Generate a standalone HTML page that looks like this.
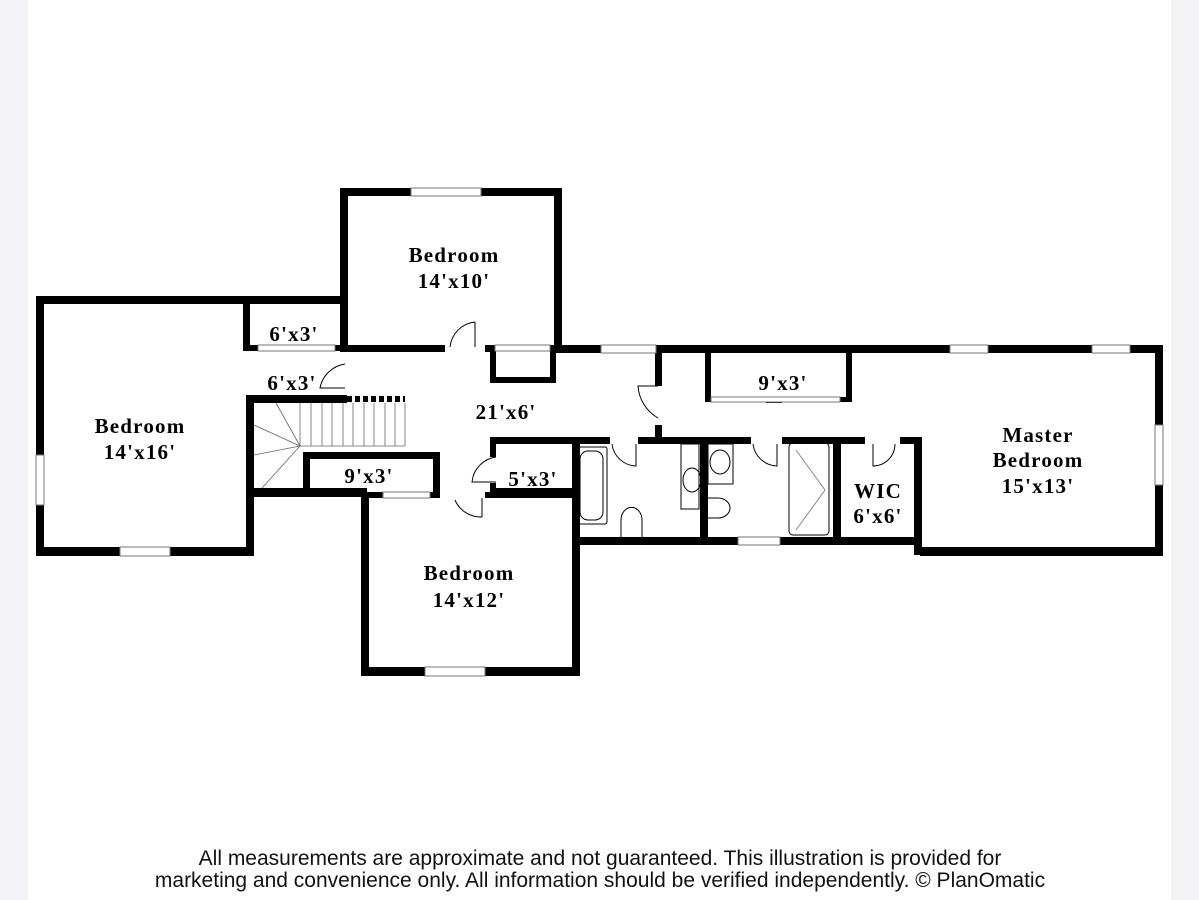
<!DOCTYPE html><html><head><style>
body{margin:0;background:#fff;width:1200px;height:900px;overflow:hidden;position:relative}
.s{position:absolute;top:0;width:28px;height:900px;background:#f3f2f5}
svg{position:absolute;left:0;top:0}
text.r{font-family:"Liberation Serif",serif;font-weight:bold;font-size:21px;letter-spacing:1.2px;text-anchor:middle}
.f{position:absolute;left:0;width:1200px;text-align:center;font-family:"Liberation Sans",sans-serif;font-size:21px;line-height:22px;color:#111}
</style></head><body>
<div class="s" style="left:0"></div><div class="s" style="left:1171px"></div>
<svg width="1200" height="900" viewBox="0 0 1200 900">
<g fill="#000">
<rect x="36" y="296" width="310" height="8"/>
<rect x="36" y="296" width="8" height="260"/>
<rect x="36" y="547" width="218" height="9"/>
<rect x="246" y="395" width="8" height="161"/>
<rect x="243" y="303" width="7" height="48"/>
<rect x="243" y="345" width="15" height="6"/>
<rect x="335" y="345" width="12" height="6"/>
<rect x="340" y="188" width="222" height="8"/>
<rect x="340" y="188" width="8" height="164"/>
<rect x="554" y="188" width="8" height="164"/>
<rect x="345" y="345" width="100" height="7"/>
<rect x="485" y="345" width="10" height="7"/>
<rect x="490" y="345" width="6" height="38"/>
<rect x="490" y="377" width="66" height="6"/>
<rect x="550" y="345" width="6" height="38"/>
<rect x="556" y="345" width="607" height="8"/>
<rect x="1155" y="345" width="8" height="211"/>
<rect x="920" y="547" width="243" height="9"/>
<rect x="705" y="352" width="6" height="50"/>
<rect x="846" y="352" width="6" height="50"/>
<rect x="705" y="397" width="12" height="5"/>
<rect x="840" y="397" width="12" height="5"/>
<rect x="766" y="398" width="16" height="5"/>
<rect x="655" y="352" width="7" height="34"/>
<rect x="655" y="425" width="7" height="18"/>
<rect x="490" y="437" width="120" height="7"/>
<rect x="638" y="437" width="113" height="7"/>
<rect x="782" y="437" width="83" height="7"/>
<rect x="900" y="437" width="22" height="7"/>
<rect x="914" y="437" width="8" height="118"/>
<rect x="572" y="537" width="350" height="8"/>
<rect x="700" y="437" width="8" height="105"/>
<rect x="833" y="437" width="8" height="105"/>
<rect x="490" y="437" width="6" height="20"/>
<rect x="490" y="483" width="6" height="12"/>
<rect x="490" y="488" width="82" height="7"/>
<rect x="361" y="492" width="8" height="184"/>
<rect x="361" y="667" width="219" height="9"/>
<rect x="572" y="437" width="8" height="239"/>
<rect x="361" y="492" width="22" height="6"/>
<rect x="430" y="492" width="10" height="6"/>
<rect x="485" y="492" width="95" height="6"/>
<rect x="247" y="395" width="100" height="8"/>
<rect x="303" y="452" width="137" height="7"/>
<rect x="303" y="452" width="7" height="43"/>
<rect x="433" y="452" width="7" height="46"/>
<rect x="247" y="488" width="120" height="9"/>
</g>
<g fill="none" stroke="#000" stroke-width="1">
<line x1="347" y1="399" x2="405" y2="399" stroke-width="6" stroke-dasharray="5,3"/>
<g stroke="#666" stroke-width="0.8">
<line x1="300" y1="403" x2="300" y2="446"/><line x1="311" y1="403" x2="311" y2="446"/><line x1="322" y1="403" x2="322" y2="446"/><line x1="332" y1="403" x2="332" y2="446"/><line x1="343" y1="403" x2="343" y2="446"/><line x1="353" y1="403" x2="353" y2="446"/><line x1="364" y1="403" x2="364" y2="446"/><line x1="374" y1="403" x2="374" y2="446"/><line x1="385" y1="403" x2="385" y2="446"/><line x1="395" y1="403" x2="395" y2="446"/><line x1="405" y1="403" x2="405" y2="446"/>
<line x1="300" y1="446" x2="405" y2="446"/>
<line x1="300" y1="446" x2="276" y2="403"/><line x1="300" y1="446" x2="254" y2="425"/><line x1="300" y1="446" x2="254" y2="455"/><line x1="300" y1="446" x2="262" y2="488"/>
</g>
<path d="M345 364 A30 30 0 0 0 320 388 L345 388"/>
<path d="M475 322 A28 28 0 0 0 450 347"/><line x1="475" y1="322" x2="475" y2="347"/>
<path d="M658 386 L638 386 A40 40 0 0 0 658 418"/>
<path d="M496 457 A28 28 0 0 0 472 482 L496 482"/>
<path d="M455 500 A28 28 0 0 0 482 517"/><line x1="482" y1="498" x2="482" y2="517"/>
<path d="M612 444 A25 25 0 0 0 636 466 L636 444"/>
<path d="M753 444 A25 25 0 0 0 777 466 L777 444"/>
<path d="M895 444 A22 22 0 0 1 873 466 L873 444"/>
<rect x="576" y="447" width="31" height="77" rx="2"/>
<rect x="580" y="451" width="23" height="69" rx="8"/>
<rect x="681" y="444" width="18" height="65"/>
<ellipse cx="692" cy="480" rx="9" ry="12"/>
<rect x="708" y="444" width="25" height="40"/>
<ellipse cx="720" cy="462" rx="10" ry="12"/>
<path d="M708 498 L718 498 A12 10 0 0 1 718 518 L708 518"/>
<path d="M621 537 L621 520 A10 12 0 0 1 642 520 L642 537"/>
<rect x="789" y="443" width="40" height="92" rx="4"/>
<polyline points="796,450 825,490 796,530" stroke="#888"/>
<g fill="#fff" stroke="#777">
<rect x="411" y="188" width="70" height="8"/><rect x="601" y="345" width="55" height="8"/>
<rect x="950" y="345" width="38" height="8"/><rect x="1092" y="345" width="38" height="8"/>
<rect x="1155" y="425" width="8" height="60"/><rect x="36" y="455" width="8" height="50"/>
<rect x="120" y="547" width="50" height="9"/><rect x="425" y="667" width="60" height="9"/>
<rect x="738" y="537" width="42" height="8"/>
<rect x="258" y="345" width="77" height="6"/><rect x="495" y="345" width="55" height="6"/>
<rect x="383" y="492" width="47" height="6"/><rect x="711" y="397" width="129" height="5"/>
</g>
</g>
<text class="r" x="454" y="262">Bedroom</text><text class="r" x="454" y="288">14'x10'</text>
<text class="r" x="140" y="433">Bedroom</text><text class="r" x="140" y="459">14'x16'</text>
<text class="r" x="469" y="580">Bedroom</text><text class="r" x="469" y="607">14'x12'</text>
<text class="r" x="1038" y="442">Master</text><text class="r" x="1038" y="467">Bedroom</text><text class="r" x="1038" y="493">15'x13'</text>
<text class="r" x="878" y="498">WIC</text><text class="r" x="878" y="523">6'x6'</text>
<text class="r" x="294" y="341">6'x3'</text><text class="r" x="292" y="390">6'x3'</text>
<text class="r" x="506" y="419">21'x6'</text><text class="r" x="783" y="390">9'x3'</text>
<text class="r" x="369" y="483">9'x3'</text><text class="r" x="533" y="486">5'x3'</text>
</svg>
<div class="f" style="top:848px">All measurements are approximate and not guaranteed. This illustration is provided for</div>
<div class="f" style="top:870px">marketing and convenience only. All information should be verified independently. © PlanOmatic</div>
</body></html>
